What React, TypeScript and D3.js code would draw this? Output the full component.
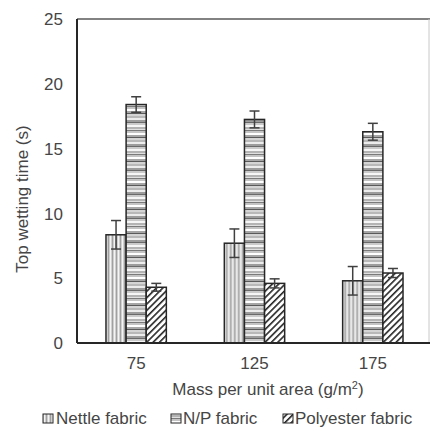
import React from "react";
import * as d3 from "d3";

const categories = ["75", "125", "175"];
const seriesNames = ["Nettle fabric", "N/P fabric", "Polyester fabric"];
const nettleValues = [8.35, 7.7, 4.8];
const nettleErrors = [1.1, 1.1, 1.1];
const npValues = [18.4, 17.25, 16.3];
const npErrors = [0.6, 0.65, 0.65];
const polyValues = [4.3, 4.6, 5.4];
const polyErrors = [0.3, 0.35, 0.35];
const yTicks = [0, 5, 10, 15, 20, 25];

const W = 430;
const H = 431;
const left = 77;
const right = 432;
const top = 19;
const bottom = 343;
const font = "'Liberation Sans', Arial, sans-serif";
const textColor = "#454545";
const fs = 17;

const series = [
  { name: seriesNames[0], values: nettleValues, errors: nettleErrors, fill: "url(#pNettle)" },
  { name: seriesNames[1], values: npValues, errors: npErrors, fill: "url(#pNP)" },
  { name: seriesNames[2], values: polyValues, errors: polyErrors, fill: "url(#pPoly)" },
];

export default function App() {
  const y = d3.scaleLinear().domain([0, 25]).range([bottom, top]);
  const x0 = d3.scaleBand<string>().domain(categories).range([left, right]).paddingInner(0.49).paddingOuter(0.245);
  const x1 = d3.scaleBand<string>().domain(seriesNames).range([0, x0.bandwidth()]);

  const npStripes = [
    { y: 0, h: 2, c: "#9c9c9c" },
    { y: 2, h: 1, c: "#6a6a6a" },
    { y: 3, h: 2, c: "#cacaca" },
    { y: 5, h: 2, c: "#f6f6f6" },
    { y: 7, h: 2, c: "#b4b4b4" },
    { y: 9, h: 1, c: "#e0e0e0" },
    { y: 10, h: 1, c: "#7a7a7a" },
    { y: 11, h: 2, c: "#c4c4c4" },
    { y: 13, h: 2, c: "#ffffff" },
    { y: 15, h: 2, c: "#a6a6a6" },
    { y: 17, h: 1, c: "#5a5a5a" },
    { y: 18, h: 2, c: "#d4d4d4" },
    { y: 20, h: 2, c: "#b8b8b8" },
    { y: 22, h: 2, c: "#ececec" },
  ];

  return (
    <svg width={W} height={H} style={{ display: "block", position: "absolute", left: 0, top: 0 }}>
      <defs>
        <pattern id="pNettle" patternUnits="userSpaceOnUse" width={4} height={4}>
          <rect width={4} height={4} fill="#cfcfcf" />
          <rect x={0} width={1} height={4} fill="#f4f4f4" />
          <rect x={2} width={1} height={4} fill="#a0a0a0" />
        </pattern>
        <pattern id="pNP" patternUnits="userSpaceOnUse" width={4} height={24}>
          {npStripes.map((s, i) => (
            <rect key={i} x={0} y={s.y} width={4} height={s.h} fill={s.c} />
          ))}
        </pattern>
        <pattern id="pPoly" patternUnits="userSpaceOnUse" width={4.5} height={4.5} patternTransform="rotate(45)">
          <rect width={4.5} height={4.5} fill="#ffffff" />
          <rect x={0} y={0} width={1.6} height={4.5} fill="#262626" />
        </pattern>
      </defs>

      {/* frame */}
      <line x1={left} x2={W} y1={top} y2={top} stroke="#595959" strokeWidth={1.5} />
      <line x1={W - 1} x2={W - 1} y1={top} y2={bottom} stroke="#c8c8c8" strokeWidth={1} />

      {/* y ticks */}
      {yTicks.map((t) => (
        <text key={t} x={63} y={y(t)} dy="0.36em" textAnchor="end" fontFamily={font} fontSize={fs} fill={textColor}>
          {t}
        </text>
      ))}

      {/* bars */}
      {categories.map((c, ci) => (
        <g key={c} transform={`translate(${x0(c)},0)`}>
          {series.map((s) => {
            const bx = x1(s.name)!;
            const bw = x1.bandwidth();
            const v = s.values[ci];
            const e = s.errors[ci];
            const cx = bx + bw / 2;
            return (
              <g key={s.name}>
                <rect x={bx} y={y(v)} width={bw} height={y(0) - y(v)} fill={s.fill} stroke="#262626" strokeWidth={1.5} />
                <line x1={cx} x2={cx} y1={y(v + e)} y2={y(v - e)} stroke="#404040" strokeWidth={1.5} />
                <line x1={cx - 5} x2={cx + 5} y1={y(v + e)} y2={y(v + e)} stroke="#404040" strokeWidth={1.5} />
                <line x1={cx - 5} x2={cx + 5} y1={y(v - e)} y2={y(v - e)} stroke="#404040" strokeWidth={1.5} />
              </g>
            );
          })}
        </g>
      ))}

      {/* axes */}
      <line x1={left} x2={left} y1={top} y2={bottom} stroke="#262626" strokeWidth={2} />
      <line x1={left} x2={W} y1={bottom} y2={bottom} stroke="#262626" strokeWidth={2} />

      {/* x tick labels */}
      {categories.map((c) => (
        <text key={c} x={x0(c)! + x0.bandwidth() / 2} y={369} textAnchor="middle" fontFamily={font} fontSize={fs} fill={textColor}>
          {c}
        </text>
      ))}

      {/* axis titles */}
      <text x={268} y={395} textAnchor="middle" fontFamily={font} fontSize={fs} fill={textColor}>
        Mass per unit area (g/m<tspan dy={-6} fontSize={11}>2</tspan><tspan dy={6}>)</tspan>
      </text>
      <text transform={`translate(28,199) rotate(-90)`} textAnchor="middle" fontFamily={font} fontSize={fs} fill={textColor}>
        Top wetting time (s)
      </text>

      {/* legend */}
      {[
        { x: 43, tx: 56, s: series[0] },
        { x: 171, tx: 183, s: series[1] },
        { x: 283, tx: 295, s: series[2] },
      ].map((l) => (
        <g key={l.s.name}>
          <rect x={l.x} y={414} width={10} height={9} fill={l.s.fill} stroke="#262626" strokeWidth={1} />
          <text x={l.tx} y={424} fontFamily={font} fontSize={fs} fill={textColor}>
            {l.s.name}
          </text>
        </g>
      ))}
    </svg>
  );
}
